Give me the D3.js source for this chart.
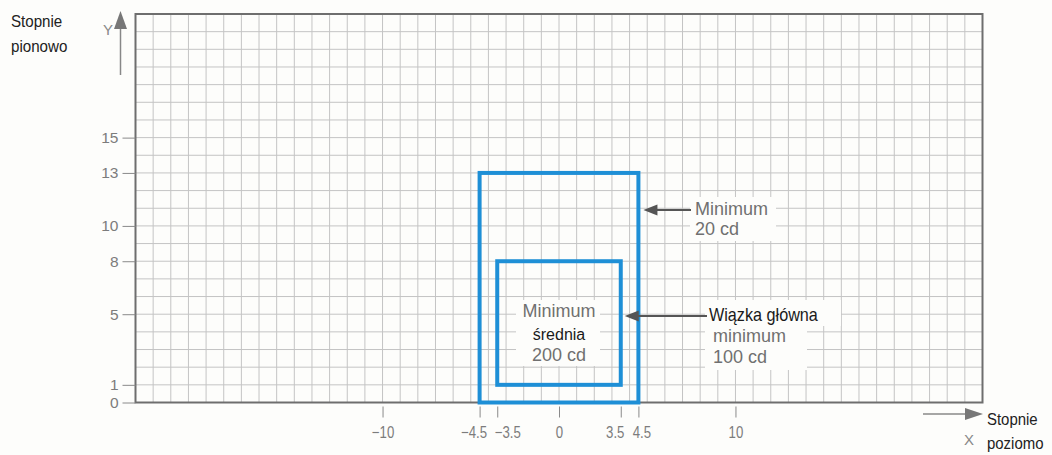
<!DOCTYPE html>
<html><head><meta charset="utf-8">
<script src="https://cdn.jsdelivr.net/npm/d3@7/dist/d3.min.js"></script>
<style>
html,body{margin:0;padding:0;background:#fdfdfb;}
svg{display:block;}
text{font-family:"Liberation Sans",Arial,sans-serif;}
</style></head>
<body>
<svg id="chart" width="1052" height="455"></svg>
<script>
// ---- data ----
const xDomain = [-24, 24];
const yDomain = [0, 22];
const xTicks = [-10, -4.5, -3.5, 0, 3.5, 4.5, 10];
const yTicks = [0, 1, 5, 8, 10, 13, 15];
const zoneNames = ["Minimum 20 cd", "Minimum średnia 200 cd"];
const zoneX0 = [-4.5, -3.5];
const zoneX1 = [4.5, 3.5];
const zoneY0 = [0, 1];
const zoneY1 = [13, 8];

const svg = d3.select("#chart");
const W = 1052, H = 455;
const x = d3.scaleLinear().domain(xDomain).range([135.5, 982.5]);
const y = d3.scaleLinear().domain(yDomain).range([402.5, 14]);

svg.append("rect").attr("width", W).attr("height", H).attr("fill", "#fdfdfb");

const REG = "Liberation Sans, Arial, sans-serif";
// condensed look: regular font squeezed horizontally around its x anchor
function condense(sel, size, factor) {
  sel.style("font-size", size + "px").style("font-family", REG);
  sel.each(function () {
    const t = d3.select(this);
    const tx = +t.attr("x") || 0;
    const prev = t.attr("transform") || "";
    t.attr("transform", prev + ` translate(${tx},0) scale(${factor},1) translate(${-tx},0)`);
  });
  return sel;
}

// grid
const g = svg.append("g");
g.selectAll(".vg").data(d3.range(xDomain[0], xDomain[1] + 1)).join("line")
  .attr("x1", d => x(d)).attr("x2", d => x(d))
  .attr("y1", y(yDomain[0])).attr("y2", y(yDomain[1]))
  .attr("stroke", "#c4c4c4").attr("stroke-width", 1);
g.selectAll(".hg").data(d3.range(yDomain[0], yDomain[1] + 1)).join("line")
  .attr("y1", d => y(d)).attr("y2", d => y(d))
  .attr("x1", x(xDomain[0])).attr("x2", x(xDomain[1]))
  .attr("stroke", "#c4c4c4").attr("stroke-width", 1);
g.append("rect")
  .attr("x", x(xDomain[0])).attr("y", y(yDomain[1]))
  .attr("width", x(xDomain[1]) - x(xDomain[0]))
  .attr("height", y(yDomain[0]) - y(yDomain[1]))
  .attr("fill", "none").attr("stroke", "#6e6e6e").attr("stroke-width", 2);

// axes
const fmt = d => (d < 0 ? "\u2212" + Math.abs(d) : String(d));
const ya = svg.append("g").attr("transform", `translate(${x(xDomain[0])},0)`)
  .call(d3.axisLeft(y).tickValues(yTicks).tickSize(13).tickPadding(4).tickFormat(fmt));
ya.select(".domain").remove();
ya.selectAll("line").attr("stroke", "#8a8a8a");
ya.selectAll("text").attr("fill", "#7c7c7c").style("font-size", "15.5px").style("font-family", REG);

const labelShift = {"-4.5": -6, "-3.5": 10, "3.5": -6, "4.5": 3};
const xa = svg.append("g").attr("transform", `translate(0,${y(yDomain[0])})`)
  .call(d3.axisBottom(x).tickValues(xTicks).tickSize(15).tickPadding(9).tickFormat(fmt));
xa.select(".domain").remove();
xa.selectAll("line").attr("y1", 4).attr("stroke", "#8a8a8a");
xa.selectAll("text").attr("fill", "#7c7c7c").attr("x", d => labelShift[String(d)] || 0);
condense(xa.selectAll("text"), 16.5, 0.8);

// zones
svg.selectAll(".zone").data(zoneNames).join("rect")
  .attr("x", (d, i) => x(zoneX0[i])).attr("y", (d, i) => y(zoneY1[i]))
  .attr("width", (d, i) => x(zoneX1[i]) - x(zoneX0[i]))
  .attr("height", (d, i) => y(zoneY0[i]) - y(zoneY1[i]))
  .attr("fill", "none").attr("stroke", "#1e8fd6").attr("stroke-width", 4);

// helpers
function arrow(x1, yy, x2, color) {
  svg.append("line").attr("x1", x1).attr("y1", yy).attr("x2", x2 + 10).attr("y2", yy)
    .attr("stroke", color).attr("stroke-width", 2);
  svg.append("path").attr("d", `M${x2},${yy} L${x2 + 14},${yy - 5.5} L${x2 + 14},${yy + 5.5} Z`)
    .attr("fill", color);
}
function txt(tx, ty, s, size, color, anchor, factor) {
  const t = svg.append("text").attr("x", tx).attr("y", ty).text(s)
    .attr("fill", color).style("font-size", size + "px")
    .attr("text-anchor", anchor || "start");
  if (factor) condense(t, size, factor);
  return t;
}
const gray = "#707070";

// inner label
svg.append("rect").attr("x", 516).attr("y", 300).attr("width", 84).attr("height", 66).attr("fill", "#fdfdfb");
txt(x(0), 317, "Minimum", 18, gray, "middle");
txt(x(0), 340, "średnia", 16, "#1a1a1a", "middle");
txt(x(0), 361, "200 cd", 18, gray, "middle");

// annotation 1
svg.append("rect").attr("x", 690).attr("y", 197).attr("width", 86).attr("height", 44).attr("fill", "#fdfdfb");
arrow(691, y(10.9), x(4.5) + 5, "#555");
txt(695, 215, "Minimum", 18, gray);
txt(695, 235, "20 cd", 18, gray);

// annotation 2
svg.append("rect").attr("x", 705).attr("y", 300).attr("width", 136).attr("height", 26).attr("fill", "#fdfdfb");
svg.append("rect").attr("x", 705).attr("y", 324).attr("width", 102).attr("height", 46).attr("fill", "#fdfdfb");
arrow(707, y(4.9), x(3.5) + 4, "#555");
txt(709, 321, "Wiązka główna", 18, "#1a1a1a", "start", 0.9);
txt(713, 342, "minimum", 18, gray);
txt(713, 363, "100 cd", 18, gray);

// axis titles
txt(11, 27, "Stopnie", 17, "#222", "start", 0.89);
txt(11, 52, "pionowo", 17, "#222", "start", 0.89);
txt(108, 35, "Y", 15, "#888", "middle");
svg.append("line").attr("x1", 120.5).attr("y1", 75).attr("x2", 120.5).attr("y2", 26)
  .attr("stroke", "#888").attr("stroke-width", 1.5);
svg.append("path").attr("d", "M120.5,11 L127,29 L114,29 Z").attr("fill", "#777");

svg.append("line").attr("x1", 923).attr("y1", 414).attr("x2", 968).attr("y2", 414)
  .attr("stroke", "#888").attr("stroke-width", 1.5);
svg.append("path").attr("d", "M983,414 L965,408 L965,420 Z").attr("fill", "#777");
txt(969, 445, "X", 15, "#888", "middle");
txt(987, 425, "Stopnie", 17, "#222", "start", 0.88);
txt(987, 449, "poziomo", 17, "#222", "start", 0.88);
</script>
</body></html>
